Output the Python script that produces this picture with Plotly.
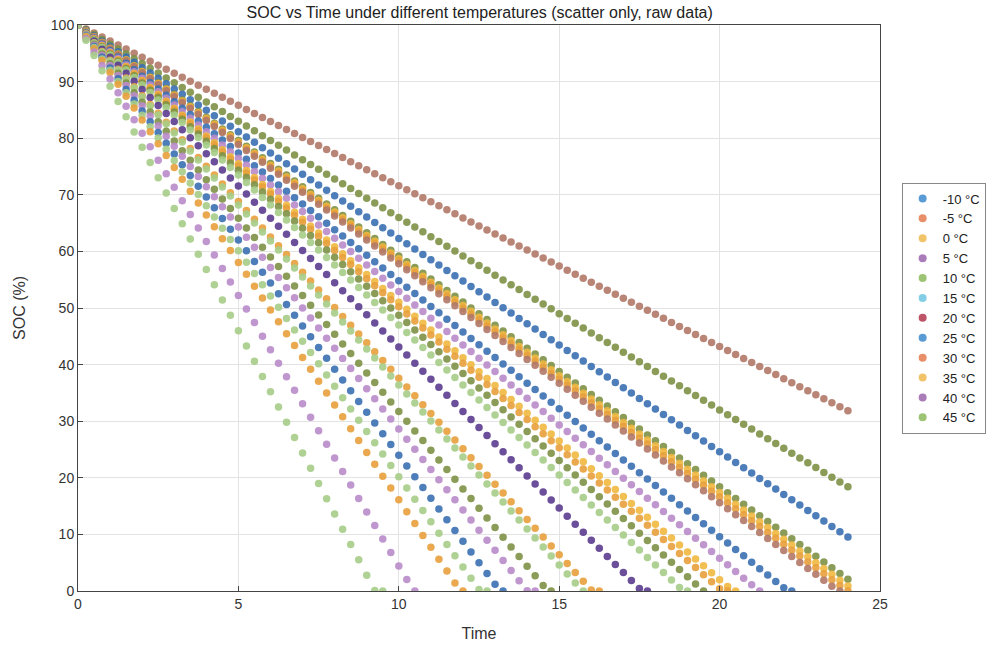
import numpy as np
import plotly.graph_objects as go

# ---- data ----
time_step = 0.25
time_max = 24.0
soc_start = 100.0

# discharge rate (%/time unit) of each visible scatter series, read from end points
series_rates = [2.84, 3.40, 3.77, 4.08, 4.13, 4.17, 4.22, 4.52, 4.71, 4.90, 4.98,
                5.13, 5.30, 5.69, 6.24, 6.36, 6.83, 7.14, 7.60, 7.98, 8.39, 9.56, 10.80]
series_colors = ["#b07868", "#7d9145", "#3a70b2", "#7d9145", "#efb83f", "#e8a03c", "#b07868",
                 "#3a70b2", "#b98bc9", "#efb83f", "#e8a03c", "#7d9145", "#a6cd88", "#5b3c8f",
                 "#e8a03c", "#a6cd88", "#7d9145", "#b98bc9", "#3a70b2", "#a6cd88", "#e8a03c",
                 "#b98bc9", "#a6cd88"]

legend_labels = ["-10 °C", "-5 °C", "0 °C", "5 °C", "10 °C", "15 °C",
                 "20 °C", "25 °C", "30 °C", "35 °C", "40 °C", "45 °C"]
legend_colors = ["#5b9bd5", "#e88f6a", "#f2c46a", "#a97bb9", "#9cc474", "#84cde6",
                 "#bd5468", "#5b9bd5", "#e88f6a", "#f2c46a", "#a97bb9", "#9cc474"]

x_ticks = [0, 5, 10, 15, 20, 25]
y_ticks = [0, 10, 20, 30, 40, 50, 60, 70, 80, 90, 100]

t = np.arange(0, time_max + 1e-9, time_step)

fig = go.Figure()
for r, c in zip(series_rates, series_colors):
    soc = np.maximum(soc_start - r * t, 0.0)
    zero_idx = np.where(soc <= 0)[0]
    n = zero_idx[0] + 1 if len(zero_idx) else len(t)
    fig.add_trace(go.Scatter(x=t[:n], y=soc[:n], mode="markers",
                             marker=dict(size=7.5, color=c, opacity=0.9, line=dict(width=0)),
                             showlegend=False, hoverinfo="skip"))

for lab, c in zip(legend_labels, legend_colors):
    fig.add_trace(go.Scatter(x=[None], y=[None], mode="markers", name=lab,
                             marker=dict(size=8, color=c)))

axis_common = dict(showline=True, linecolor="#444", linewidth=1, mirror=True,
                   ticks="inside", ticklen=5, tickcolor="#444", automargin=False,
                   showgrid=True, gridcolor="#e3e3e3", gridwidth=1, zeroline=False,
                   tickfont=dict(size=14, color="#333"))

fig.update_layout(
    width=987, height=648,
    margin=dict(l=78, r=107, t=25, b=57, autoexpand=False),
    paper_bgcolor="white", plot_bgcolor="white",
    font=dict(family="Liberation Sans, Arial, sans-serif", color="#333"),
    title=dict(text="SOC vs Time under different temperatures (scatter only, raw data)",
               x=0.486, xanchor="center", y=0.9815, yanchor="middle",
               font=dict(size=16, color="#222")),
    xaxis=dict(range=[0, 25], tickvals=x_ticks, title=dict(text="Time", font=dict(size=16), standoff=17),
               **axis_common),
    yaxis=dict(range=[0, 100], tickvals=y_ticks, title=dict(text="SOC (%)", font=dict(size=16), standoff=21),
               **axis_common),
    legend=dict(x=1.027, xanchor="left", y=0.5, yanchor="middle",
                bordercolor="#888", borderwidth=1, bgcolor="white",
                font=dict(size=13, color="#222"), itemwidth=30, tracegroupgap=0),
)

fig.write_html("out.html", config={"displayModeBar": False},
               post_script="document.body.style.margin='0';document.body.style.overflow='hidden';")
